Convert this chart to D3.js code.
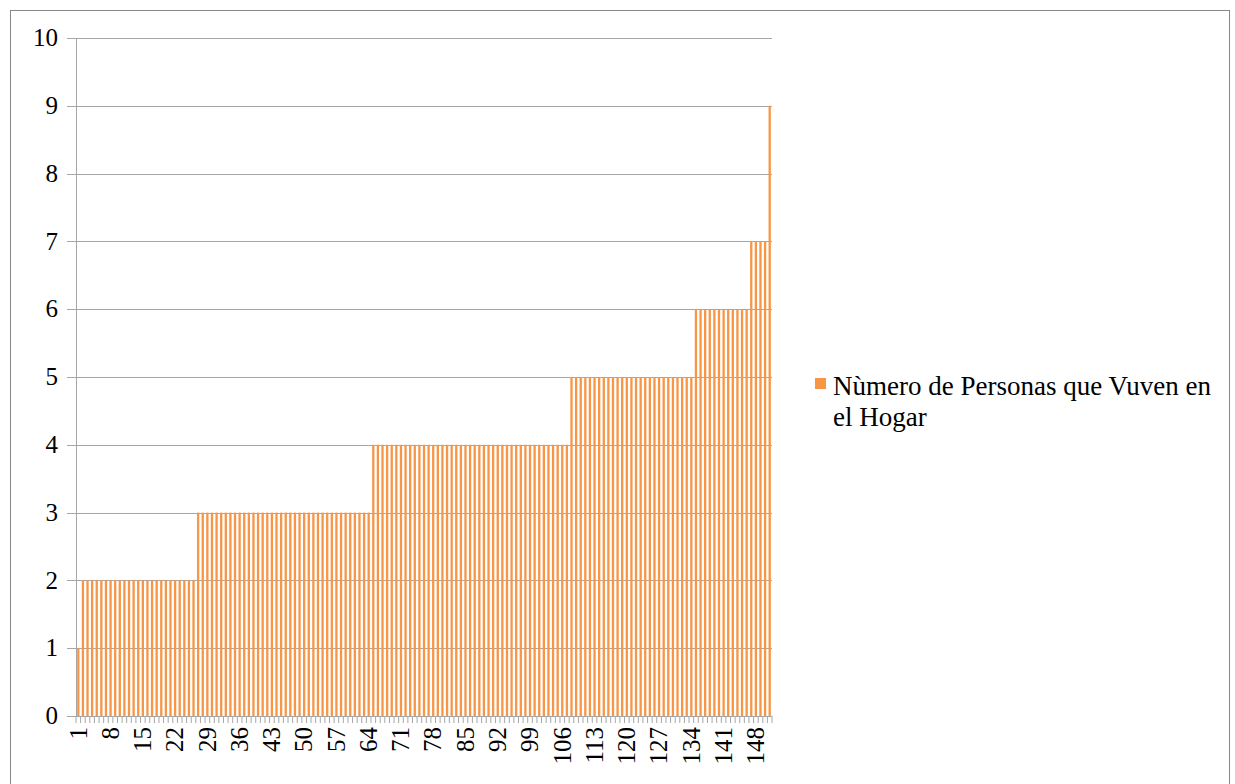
<!DOCTYPE html>
<html>
<head>
<meta charset="utf-8">
<script src="https://cdn.jsdelivr.net/npm/d3@7"></script>
<style>
  html, body { margin: 0; padding: 0; background: #fff; }
  svg { display: block; }
  text { font-family: "Liberation Serif", "Times New Roman", serif; fill: #000; }
</style>
</head>
<body>
<svg id="chart" width="1235" height="784"></svg>
<script>
// ---- data ----
const seriesName = "Nùmero de Personas que Vuven en el Hogar";
const legendLines = ["Nùmero de Personas que Vuven en", "el Hogar"];
const values = [
  1,
  2,2,2,2,2,2,2,2,2,2,2,2,2,2,2,2,2,2,2,2,2,2,2,2,2,
  3,3,3,3,3,3,3,3,3,3,3,3,3,3,3,3,3,3,3,3,3,3,3,3,3,3,3,3,3,3,3,3,3,3,3,3,3,3,
  4,4,4,4,4,4,4,4,4,4,4,4,4,4,4,4,4,4,4,4,4,4,4,4,4,4,4,4,4,4,4,4,4,4,4,4,4,4,4,4,4,4,4,
  5,5,5,5,5,5,5,5,5,5,5,5,5,5,5,5,5,5,5,5,5,5,5,5,5,5,5,
  6,6,6,6,6,6,6,6,6,6,6,6,
  7,7,7,7,
  9
];
const categories = values.map((v, i) => i + 1);
const xTickLabels = [1,8,15,22,29,36,43,50,57,64,71,78,85,92,99,106,113,120,127,134,141,148];
const yTicks = [0,1,2,3,4,5,6,7,8,9,10];

// ---- layout ----
const svg = d3.select("#chart");
const L = 76, R = 772, T = 38, B = 716;
const barColor = "#F79646";
const gridColor = "#A6A6A6";
const fontSize = 25;

// outer frame
svg.append("rect").attr("x", 10.5).attr("y", 10.5).attr("width", 1219).attr("height", 790)
  .attr("fill", "none").attr("stroke", "#878787").attr("stroke-width", 1);

const x = d3.scaleBand().domain(categories).range([L, R]).paddingInner(0.5).paddingOuter(0.25);
const y = d3.scaleLinear().domain([0, 10]).range([B, T]);

// gridlines with left tick stubs
svg.append("g").selectAll("line").data(yTicks).join("line")
  .attr("x1", L - 9).attr("x2", R)
  .attr("y1", d => Math.round(y(d)) + 0.5).attr("y2", d => Math.round(y(d)) + 0.5)
  .attr("stroke", gridColor).attr("stroke-width", 1);

// y labels
svg.append("g").selectAll("text").data(yTicks).join("text")
  .attr("x", 58).attr("y", d => y(d)).attr("dy", "0.33em")
  .attr("text-anchor", "end").attr("font-size", fontSize)
  .text(d => d);

// bars
svg.append("g").selectAll("rect").data(values).join("rect")
  .attr("x", (d, i) => x(categories[i]))
  .attr("width", x.bandwidth())
  .attr("y", d => y(d))
  .attr("height", d => y(0) - y(d))
  .attr("fill", barColor);

// axes lines
svg.append("line").attr("x1", L + 0.5).attr("x2", L + 0.5).attr("y1", T).attr("y2", B)
  .attr("stroke", gridColor);
svg.append("line").attr("x1", L - 9).attr("x2", R).attr("y1", B + 0.5).attr("y2", B + 0.5)
  .attr("stroke", gridColor);

// x ticks at category boundaries
const gapHalf = (x.step() - x.bandwidth()) / 2;
const boundaries = categories.map(c => x(c) - gapHalf).concat([R]);
svg.append("g").selectAll("line").data(boundaries).join("line")
  .attr("x1", d => d).attr("x2", d => d)
  .attr("y1", B).attr("y2", B + 7)
  .attr("stroke", gridColor);

// x labels rotated
svg.append("g").selectAll("text").data(xTickLabels).join("text")
  .attr("transform", d => `translate(${x(d) + x.bandwidth() / 2},${B + 11}) rotate(-90)`)
  .attr("text-anchor", "end").attr("dy", "0.33em")
  .attr("font-size", fontSize)
  .text(d => d);

// legend
svg.append("rect").attr("x", 815).attr("y", 378).attr("width", 11).attr("height", 11).attr("fill", barColor);
svg.append("g").selectAll("text").data(legendLines).join("text")
  .attr("x", 833).attr("y", (d, i) => 395 + i * 31)
  .attr("font-size", 27)
  .text(d => d);
</script>
</body>
</html>
